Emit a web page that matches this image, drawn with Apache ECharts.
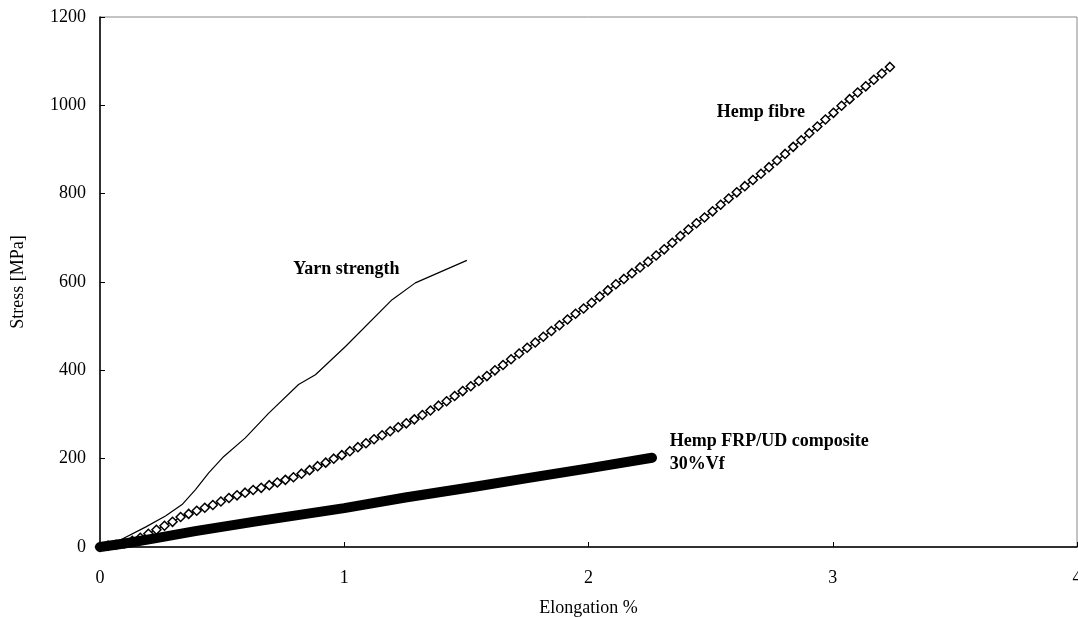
<!DOCTYPE html>
<html>
<head>
<meta charset="utf-8">
<title>Stress vs elongation</title>
<script src="https://cdn.jsdelivr.net/npm/echarts@6/dist/echarts.min.js"></script>
<style>
  html, body { margin: 0; padding: 0; background: #fff; }
  #chart { width: 1078px; height: 617px; }
</style>
</head>
<body>
<div id="chart"></div>
<script>
// axis ticks
var xTicks = [0, 1, 2, 3, 4]
var yTicks = [0, 200, 400, 600, 800, 1000, 1200]

// yarn strength curve (elongation %, MPa)
var yarnX = [0, 0.063, 0.186, 0.268, 0.336, 0.391, 0.445, 0.507, 0.595, 0.691, 0.813, 0.882, 1.005, 1.196, 1.291, 1.502]
var yarnY = [0, 10, 45, 70, 96, 130, 168, 205, 247, 303, 368, 390, 454, 560, 598, 649]

// hemp fibre, one value per marker
var fibreX = [0, 0.033, 0.066, 0.099, 0.132, 0.165, 0.198, 0.231, 0.264, 0.297,
  0.330, 0.363, 0.396, 0.429, 0.462, 0.495, 0.528, 0.561, 0.594, 0.627,
  0.660, 0.693, 0.726, 0.759, 0.792, 0.825, 0.858, 0.891, 0.924, 0.957,
  0.990, 1.023, 1.056, 1.089, 1.122, 1.155, 1.188, 1.221, 1.254, 1.287,
  1.320, 1.353, 1.386, 1.419, 1.452, 1.485, 1.518, 1.551, 1.584, 1.617,
  1.650, 1.683, 1.716, 1.749, 1.782, 1.815, 1.848, 1.881, 1.914, 1.947,
  1.980, 2.013, 2.046, 2.079, 2.112, 2.145, 2.178, 2.211, 2.244, 2.277,
  2.310, 2.343, 2.376, 2.409, 2.442, 2.475, 2.508, 2.541, 2.574, 2.607,
  2.640, 2.673, 2.706, 2.739, 2.772, 2.805, 2.838, 2.871, 2.904, 2.937,
  2.970, 3.003, 3.036, 3.069, 3.102, 3.135, 3.168, 3.201, 3.234]
var fibreY = [0, 3, 5, 8, 14, 21, 30, 39, 48, 57,
  68, 75, 82, 89, 95, 103, 111, 117, 123, 129,
  134, 140, 146, 152, 158, 166, 174, 183, 191, 200,
  208, 217, 226, 235, 244, 253, 262, 271, 280, 289,
  299, 309, 320, 330, 342, 353, 364, 376, 387, 400,
  412, 425, 438, 451, 463, 476, 489, 502, 515, 528,
  540, 553, 567, 581, 595, 607, 620, 633, 646, 660,
  674, 689, 704, 719, 733, 746, 760, 775, 789, 803,
  817, 831, 845, 860, 875, 890, 906, 921, 937, 952,
  968, 983, 999, 1014, 1029, 1043, 1058, 1072, 1087]

// hemp FRP/UD composite 30%Vf
var compX = [0, 0.1, 0.23, 0.39, 0.64, 1.0, 1.25, 1.54, 1.75, 2.0, 2.26]
var compY = [0, 8, 20, 36, 58, 88, 112, 137, 156, 178, 202]

function pairs(xs, ys) {
  return xs.map(function (x, i) { return [x, ys[i]] })
}

var font = "'Liberation Serif', 'Times New Roman', serif"
var chart = echarts.init(document.getElementById('chart'))

chart.setOption({
  animation: false,
  textStyle: { fontFamily: font, color: '#000' },
  grid: {
    left: 100,
    right: 1,
    top: 17,
    bottom: 70,
    containLabel: false,
    outerBoundsMode: 'none',
    show: true,
    borderColor: '#888',
    borderWidth: 1
  },
  xAxis: {
    type: 'value',
    min: xTicks[0],
    max: xTicks[xTicks.length - 1],
    interval: 1,
    name: 'Elongation %',
    nameLocation: 'middle',
    nameGap: 52,
    nameTextStyle: { fontFamily: font, fontSize: 18, color: '#000' },
    axisLine: { show: true, lineStyle: { color: '#000', width: 1.5 } },
    axisTick: { show: true, inside: true, length: 5, lineStyle: { color: '#000' } },
    axisLabel: { fontFamily: font, fontSize: 18, color: '#000', margin: 22 },
    splitLine: { show: false }
  },
  yAxis: {
    type: 'value',
    min: yTicks[0],
    max: yTicks[yTicks.length - 1],
    interval: 200,
    name: 'Stress [MPa]',
    nameLocation: 'middle',
    nameGap: 73,
    nameTextStyle: { fontFamily: font, fontSize: 18, color: '#000' },
    axisLine: { show: true, lineStyle: { color: '#000', width: 1.5 } },
    axisTick: { show: true, inside: true, length: 5, lineStyle: { color: '#000' } },
    axisLabel: {
      fontFamily: font, fontSize: 18, color: '#000', margin: 14,
      formatter: function (v) { return String(v) }
    },
    splitLine: { show: false }
  },
  series: [
    {
      name: 'Yarn strength',
      type: 'line',
      data: pairs(yarnX, yarnY),
      showSymbol: false,
      lineStyle: { color: '#000', width: 1.2 },
      z: 2,
      markPoint: {
        symbolSize: 0,
        data: [{ coord: [1.009, 628] }],
        label: {
          show: true, position: 'inside', formatter: 'Yarn strength',
          fontFamily: font, fontSize: 18, fontWeight: 'bold', color: '#000'
        }
      }
    },
    {
      name: 'Hemp fibre',
      type: 'line',
      data: pairs(fibreX, fibreY),
      symbol: 'diamond',
      symbolSize: 9,
      showAllSymbol: true,
      itemStyle: { color: '#fff', borderColor: '#000', borderWidth: 1.5 },
      lineStyle: { color: '#000', width: 1.2 },
      z: 3,
      markPoint: {
        symbolSize: 0,
        data: [{ coord: [2.706, 985] }],
        label: {
          show: true, position: 'inside', formatter: 'Hemp fibre',
          fontFamily: font, fontSize: 18, fontWeight: 'bold', color: '#000'
        }
      }
    },
    {
      name: 'Hemp FRP/UD composite 30%Vf',
      type: 'line',
      data: pairs(compX, compY),
      showSymbol: false,
      lineStyle: { color: '#000', width: 10, cap: 'round', join: 'round' },
      z: 4,
      markPoint: {
        symbolSize: 0,
        data: [{ coord: [2.333, 213] }],
        label: {
          show: true, position: 'right', distance: 0, align: 'left',
          formatter: 'Hemp FRP/UD composite\n30%Vf', lineHeight: 23,
          fontFamily: font, fontSize: 18, fontWeight: 'bold', color: '#000'
        }
      }
    }
  ]
})
</script>
</body>
</html>
